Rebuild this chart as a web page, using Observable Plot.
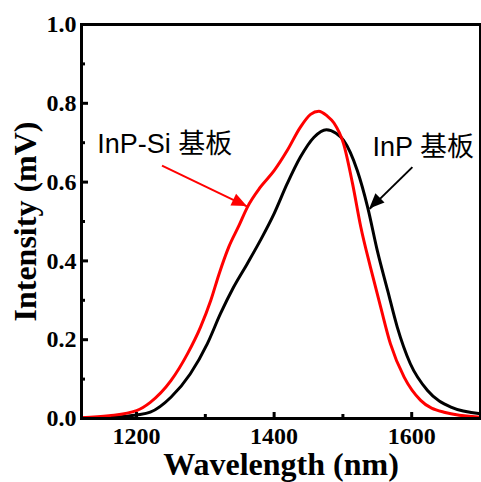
<!DOCTYPE html>
<html><head><meta charset="utf-8">
<script src="https://cdn.jsdelivr.net/npm/d3@7"></script>
<script src="https://cdn.jsdelivr.net/npm/@observablehq/plot@0.6"></script>
<style>html,body{margin:0;padding:0;background:#fff} svg{display:block}</style>
</head><body><div id="chart"></div>
<script>
// InP-Si substrate (red)
const redWavelength = [1120,1160,1200,1220,1250,1274,1293,1308,1320,1334,1349,1361,1380,1400,1419,1438,1453,1465,1477,1487,1501,1514,1526,1540,1555,1569,1589,1613,1647,1700];
const redIntensity  = [0.002,0.007,0.020,0.041,0.096,0.164,0.232,0.300,0.367,0.435,0.490,0.536,0.587,0.629,0.680,0.739,0.772,0.780,0.768,0.750,0.697,0.596,0.486,0.384,0.282,0.190,0.105,0.046,0.016,0.003];
// InP substrate (black)
const blackWavelength = [1120,1160,1200,1220,1250,1278,1303,1322,1341,1361,1380,1400,1419,1438,1458,1476,1490,1501,1521,1536,1550,1565,1579,1598,1623,1657,1700];
const blackIntensity  = [0.001,0.003,0.009,0.016,0.054,0.113,0.190,0.266,0.333,0.393,0.452,0.520,0.596,0.663,0.714,0.733,0.724,0.706,0.629,0.536,0.426,0.325,0.232,0.139,0.071,0.029,0.012];

const xMajorTicks = [1200,1400,1600];
const xMinorTicks = [1300,1500];
const yMajorTicks = [0,0.2,0.4,0.6,0.8,1.0];
const yMinorTicks = [0.1,0.3,0.5,0.7,0.9];
const xTitle = "Wavelength (nm)";
const yTitle = "Intensity (mV)";
const annotations = [
  {text:"InP-Si 基板", x:1143, y:0.695},
  {text:"InP 基板", x:1543, y:0.689}
];
const arrows = [
  {x1:1237, y1:0.642, x2:1361, y2:0.538, color:"#ff0000"},
  {x1:1601, y1:0.638, x2:1539, y2:0.532, color:"#000000"}
];

const red = redWavelength.map((w,i)=>({w, v:redIntensity[i]}));
const black = blackWavelength.map((w,i)=>({w, v:blackIntensity[i]}));

const chart = Plot.plot({
  width:481, height:482,
  marginLeft:81, marginRight:1, marginTop:24, marginBottom:64,
  x:{domain:[1120,1700]},
  y:{domain:[0,1]},
  style:{fontFamily:"'Liberation Serif','Times New Roman',serif", background:"#fff", color:"#000", overflow:"visible"},
  marks:[
    Plot.line(black, {x:"w", y:"v", stroke:"#000", strokeWidth:3, curve:"monotone-x"}),
    Plot.line(red, {x:"w", y:"v", stroke:"#ff0000", strokeWidth:3, curve:"monotone-x"}),
    // inward ticks
    Plot.axisX(xMajorTicks, {tickSize:6, dy:-6, strokeWidth:3, fill:"none", label:null}),
    Plot.axisX(xMinorTicks, {tickSize:4, dy:-4, strokeWidth:3, fill:"none", label:null}),
    Plot.axisY(yMajorTicks, {tickSize:7, dx:7, strokeWidth:3, fill:"none", label:null}),
    Plot.axisY(yMinorTicks, {tickSize:4, dx:4, strokeWidth:3, fill:"none", label:null}),
    // tick labels
    Plot.axisX(xMajorTicks, {tickSize:0, tickPadding:8, fontSize:24, fontWeight:"bold", tickFormat:d=>String(d), label:null}),
    Plot.axisY(yMajorTicks, {tickSize:0, tickPadding:5, fontSize:24, fontWeight:"bold", tickFormat:d=>d.toFixed(1), label:null}),
    // axis titles
    Plot.text([xTitle], {frameAnchor:"bottom", lineAnchor:"bottom", dy:56, fontSize:32, fontWeight:"bold", fill:"#000"}),
    Plot.text([yTitle], {frameAnchor:"left", textAnchor:"middle", lineAnchor:"middle", dx:-56, rotate:-90, fontSize:32, fontWeight:"bold", fill:"#000"}),
    Plot.text(annotations, {x:"x", y:"y", text:"text", textAnchor:"start", lineAnchor:"middle", fontSize:27, fontFamily:"'Liberation Sans','Noto Sans CJK SC',sans-serif", fill:"#000"}),
    Plot.link(arrows, {x1:"x1", y1:"y1", x2:"x2", y2:"y2", stroke:"color", strokeWidth:2}),
    Plot.frame({stroke:"#000", strokeWidth:3})
  ]
});

// filled arrowheads placed through the chart's own scales
const sx = chart.scale("x"), sy = chart.scale("y");
const heads = d3.select(chart).append("g");
for (const a of arrows) {
  const x1 = sx.apply(a.x1), y1 = sy.apply(a.y1), x2 = sx.apply(a.x2), y2 = sy.apply(a.y2);
  const L = Math.hypot(x2-x1, y2-y1), ux = (x2-x1)/L, uy = (y2-y1)/L;
  const hl = 15, hw = 6.5;
  const bx = x2 - hl*ux, by = y2 - hl*uy;
  heads.append("polygon")
    .attr("points", `${x2},${y2} ${bx - hw*uy},${by + hw*ux} ${bx + hw*uy},${by - hw*ux}`)
    .attr("fill", a.color);
}
document.getElementById("chart").appendChild(chart);
</script>
</body></html>
